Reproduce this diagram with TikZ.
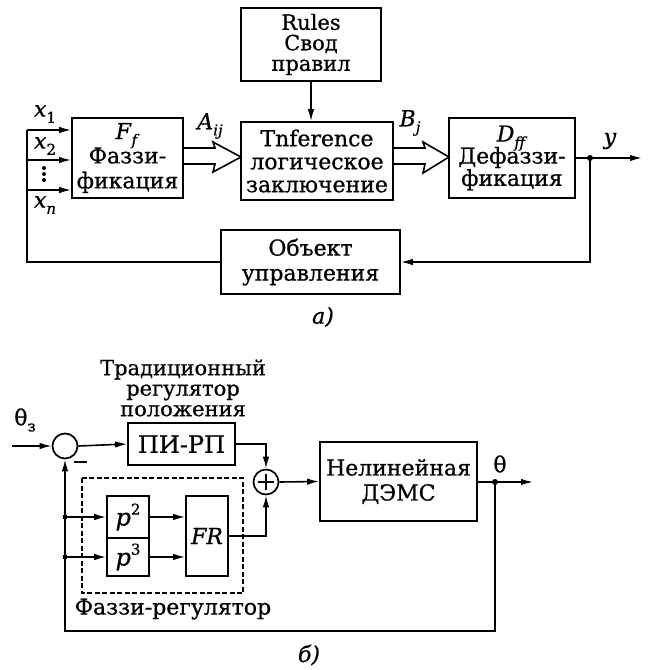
\documentclass[tikz,border=0pt]{standalone}
\usepackage{fontspec}
\setmainfont{DejaVu Serif}[FakeBold=0.7]
\usetikzlibrary{arrows.meta}
\newcommand\sbs[1]{\raisebox{-0.28em}{\fontsize{15}{15}\selectfont #1}}
\newcommand\sps[1]{\raisebox{0.45em}{\fontsize{15}{15}\selectfont #1}}
\begin{document}
\begin{tikzpicture}[x=1pt,y=-1pt,
  line width=1.6pt,
  font=\fontsize{22}{25}\selectfont,
  blk/.style={draw, line width=1.7pt, align=center, inner sep=0pt},
  arr/.style={-{Latex[length=12pt,width=6.5pt]}},
  lbl/.style={inner sep=0pt},
  jdot/.style={circle, fill, inner sep=0pt, minimum size=6pt},
]
\useasboundingbox (0,0) rectangle (649,670);

% ---------- part a ----------
\node[blk, minimum width=140pt, minimum height=73pt, font=\fontsize{21}{20.5}\selectfont] (rules) at (311,44.5) {Rules\\Свод\\правил};
\node[blk, minimum width=111pt, minimum height=80pt] (fuz) at (127.5,158) {\textit{F}\sbs{\textit{f}}\\[-2pt]Фаззи-\\фикация};
\node[blk, minimum width=152pt, minimum height=78pt, font=\fontsize{22}{23}\selectfont] (inf) at (317,161) {Tnference\\логическое\\заключение};
\node[blk, minimum width=126pt, minimum height=80pt, font=\fontsize{22}{21}\selectfont] (def) at (512,158) {\textit{D}\sbs{\textit{ff}}\\[-5pt]Дефаззи-\\фикация};
\node[blk, minimum width=179pt, minimum height=64pt] (obj) at (310.5,262) {Объект\\управления};

\draw[arr] (rules.south) -- (inf.north -| rules.south);

% inputs
\coordinate (x1s) at (27,130);
\coordinate (x2s) at (27,160);
\coordinate (xns) at (27,190);
\draw[arr] (x1s) -- (x1s -| fuz.west);
\draw[arr] (x2s) -- (x2s -| fuz.west);
\draw[arr] (xns) -- (xns -| fuz.west);
\foreach \yy in {168,174,180} \fill (44,\yy) circle (2pt);
\node[lbl] (lx1) at (45,114) {\textit{x}\sbs{1}};
\node[lbl] (lx2) at (45,146) {\textit{x}\sbs{2}};
\node[lbl] (lxn) at (45,205) {\textit{x}\sbs{\textit{n}}};

% hollow double arrows
\coordinate (Atip) at (241,157);
\draw (fuz.east |- 0,148) -- (215,148) -- (213,142) -- (Atip) -- (213,172) -- (215,164) -- (fuz.east |- 0,164);
\node[lbl] (lA) at (210,126) {\textit{A}\sbs{\textit{ij}}};
\coordinate (Btip) at (449,157);
\draw (inf.east |- 0,148) -- (425,148) -- (423,142) -- (Btip) -- (423,173) -- (425,164) -- (inf.east |- 0,164);
\node[lbl] (lB) at (410,123) {\textit{B}\sbs{\textit{j}}};

% output and feedback
\coordinate (yout) at (642,158);
\coordinate (ydot) at (590,158);
\draw[arr] (def.east) -- (yout);
\node[jdot] at (ydot) {};
\node[lbl] (ly) at (610,141) {\textit{y}};
\draw[arr] (ydot) |- (obj.east);
\draw (obj.west) -| (x1s);

\node[lbl] (la) at (323,317) {\textit{а)}};

% ---------- part b ----------
\node[draw, circle, line width=1.7pt, minimum size=25pt, inner sep=0pt] (s1) at (65,446) {};
\node[blk, minimum width=107pt, minimum height=42pt, font=\fontsize{24}{25}\selectfont] (pi) at (181.5,444) {ПИ-РП};
\node[draw, circle, line width=1.7pt, minimum size=25pt, inner sep=0pt] (s2) at (266,482) {};
\draw[line width=1.4pt] (s2.center) ++(-8,0) -- ++(16,0);
\draw[line width=1.4pt] (s2.center) ++(0,-8) -- ++(0,16);
\node[blk, minimum width=157pt, minimum height=79pt] (nl) at (398.5,481.5) {Нелинейная\\ДЭМС};

\draw[dashed, line width=1.2pt, dash pattern=on 5pt off 2.5pt] (82,478) rectangle (243,593);
\node[blk, minimum width=42pt, minimum height=42pt, font=\fontsize{24}{25}\selectfont] (p2) at (128,517) {\textit{p}\sps{2}};
\node[blk, minimum width=42pt, minimum height=38pt, font=\fontsize{24}{25}\selectfont] (p3) at (128,557) {\textit{p}\sps{3}};
\node[blk, minimum width=42pt, minimum height=80pt] (fr) at (207,536) {\textit{FR}};

\node[lbl, align=center, font=\fontsize{21}{20.5}\selectfont] (trad) at (183,388) {Традиционный\\регулятор\\положения};
\node[lbl] (lfr) at (173,609) {Фаззи-регулятор};

\coordinate (inb) at (12,446);
\draw[arr] (inb) -- (s1.west);
\node[lbl] (lth) at (25,420) {θ\sbs{з}};
\draw (74,462) -- (87,462);
\draw[arr] (s1.east) -- (pi.west);
\draw[arr] (pi.east) -| (s2.north);
\draw[arr] (fr.east) -| (s2.south);
\draw[arr] (s2.east) -- (nl.west);
\draw[arr] (p2.east) -- (p2.east -| fr.west);
\draw[arr] (p3.east) -- (p3.east -| fr.west);

\coordinate (tout) at (533,482);
\coordinate (tdot) at (495,482);
\draw[arr] (nl.east |- tdot) -- (tout);
\node[jdot] at (tdot) {};
\node[lbl] (lt) at (500,464) {θ};
\coordinate (fbl) at (s1.south |- 0,631);
\draw[arr] (tdot) |- (fbl) -- (s1.south);
\coordinate (b2) at (s1.south |- p2.west);
\coordinate (b3) at (s1.south |- p3.west);
\node[jdot, minimum size=5pt] at (b2) {};
\node[jdot, minimum size=5pt] at (b3) {};
\draw[arr] (b2) -- (p2.west);
\draw[arr] (b3) -- (p3.west);

\node[lbl] (lb) at (309,655) {\textit{б)}};
\end{tikzpicture}
\end{document}
